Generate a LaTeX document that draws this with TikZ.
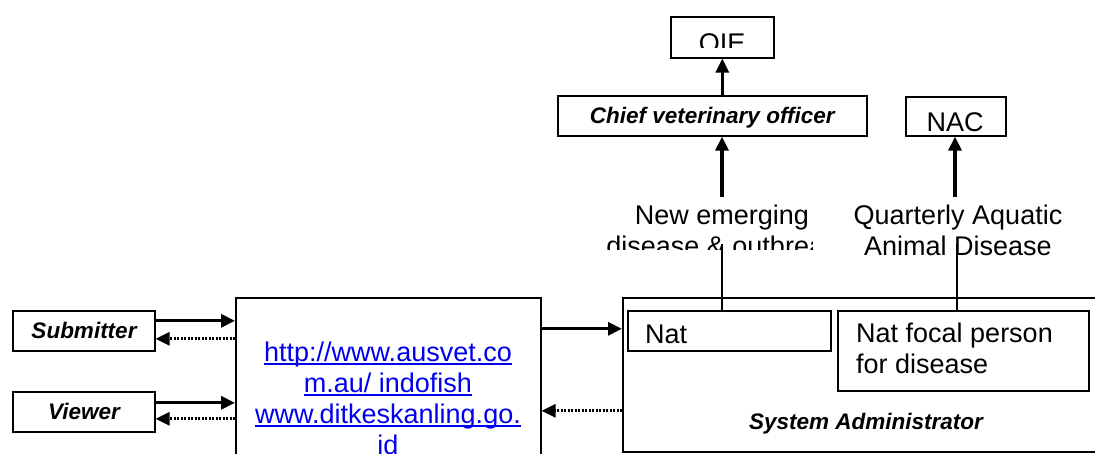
\documentclass[tikz,border=0pt]{standalone}
\usepackage{fontspec}
\setmainfont{Liberation Sans}
\usetikzlibrary{arrows.meta}
\newcommand\regfont{\fontsize{27}{31}\selectfont}
\newcommand\bifont{\fontsize{22.5}{26}\selectfont\bfseries\itshape}
\newcommand\linkline[1]{\setbox0\hbox{#1}\rlap{\rule[-3.5pt]{\wd0}{1.8pt}}\box0}
\definecolor{linkblue}{RGB}{0,0,238}
\begin{document}
\begin{tikzpicture}[x=1pt,y=-1pt,
  box/.style={draw,line width=1.6pt,inner sep=0pt},
  solidarrow/.style={line width=3.2pt,-{Triangle[length=14pt,width=13pt]}},
  dotarrow/.style={line width=2.7pt,dash pattern=on 2pt off 1.5pt,-{Triangle[length=14pt,width=13pt]}},
  thinline/.style={line width=1.5pt},
  txt/.style={inner sep=0pt,font=\regfont},
  bitxt/.style={inner sep=0pt,font=\bifont}
]
\useasboundingbox (0,0) rectangle (1095,453);
\begin{scope}
\clip (0,0) rectangle (1095,453);
% boxes
\node[box,minimum width=103,minimum height=41,anchor=north west] (oie) at (670,16) {};
\node[box,minimum width=309,minimum height=40,anchor=north west] (cvo) at (557,95) {};
\node[bitxt,anchor=base] (cvotext) at (cvo.center |- 0,123) {Chief veterinary officer};
\node[box,minimum width=100,minimum height=39,anchor=north west] (nac) at (905,96) {};
\node[txt,anchor=base] (nactext) at (955,131) {NAC};
\node[box,minimum width=142,minimum height=40,anchor=north west] (sub) at (12,310) {};
\node[bitxt,anchor=base] (subtext) at (84,338) {Submitter};
\node[box,minimum width=142,minimum height=40,anchor=north west] (view) at (12,391) {};
\node[bitxt,anchor=base] (viewtext) at (84,419) {Viewer};
\node[box,minimum width=305,minimum height=180,anchor=north west] (url) at (235,297) {};
\node[box,minimum width=500,minimum height=154,anchor=north west] (sys) at (622,297) {};
\node[box,minimum width=203,minimum height=40,anchor=north west] (nat) at (627,310) {};
\node[txt,anchor=base west] (nattext) at (645,343) {Nat};
\node[box,minimum width=251,minimum height=80,anchor=north west] (focal) at (837,310) {};
\node[txt,anchor=north west,align=left] (focaltext) at (856,323) {Nat focal person\\for disease};
\node[bitxt,anchor=base] (systext) at (866,429) {System Administrator};
% url text
\node[txt,anchor=north,align=center,text=linkblue] (urltext) at (388,342)
  {\linkline{http://www.ausvet.co}\\\linkline{m.au/ indofish}\\\linkline{www.ditkeskanling.go.}\\\linkline{id}};
% OIE clipped text
\begin{scope}
\clip (672,18) rectangle (771,47);
\node[txt,anchor=base] (oietext) at (722,52) {OIE};
\end{scope}
% clipped emerging text
\begin{scope}
\clip (590,195) rectangle (812,249);
\node[txt,anchor=north,align=center] (newtext) at (722,205) {New emerging\\disease \& outbreak};
\end{scope}
\node[txt,anchor=north,align=center] (qtext) at (958,205) {Quarterly Aquatic\\Animal Disease};
% coordinates
\coordinate (newtop) at (722,197);
\coordinate (newbot) at (722,244);
\coordinate (qtop) at (955,197);
\coordinate (qbot) at (957,244);
% arrows
\draw[solidarrow] (cvo.north -| oie.center) -- (oie.south);
\draw[solidarrow] (newtop) -- (newtop |- cvo.south);
\draw[solidarrow] (qtop) -- (qtop |- nac.south);
\draw[thinline] (newbot) -- (newbot |- nat.north);
\draw[thinline] (qbot) -- (qbot |- focal.north);
\draw[solidarrow] ([yshift=10pt]sub.east) -- ([yshift=10pt]sub.east -| url.west);
\draw[dotarrow] ([yshift=-8pt]sub.east -| url.west) -- ([yshift=-8pt]sub.east);
\draw[solidarrow] ([yshift=9pt]view.east) -- ([yshift=9pt]view.east -| url.west);
\draw[dotarrow] ([yshift=-7pt]view.east -| url.west) -- ([yshift=-7pt]view.east);
\draw[solidarrow] ([yshift=2pt]nat.west -| url.east) -- ([yshift=2pt]nat.west -| sys.west);
\draw[dotarrow] ([yshift=-36pt]sys.west) -- ([yshift=-36pt]sys.west -| url.east);
\end{scope}
\end{tikzpicture}
\end{document}
